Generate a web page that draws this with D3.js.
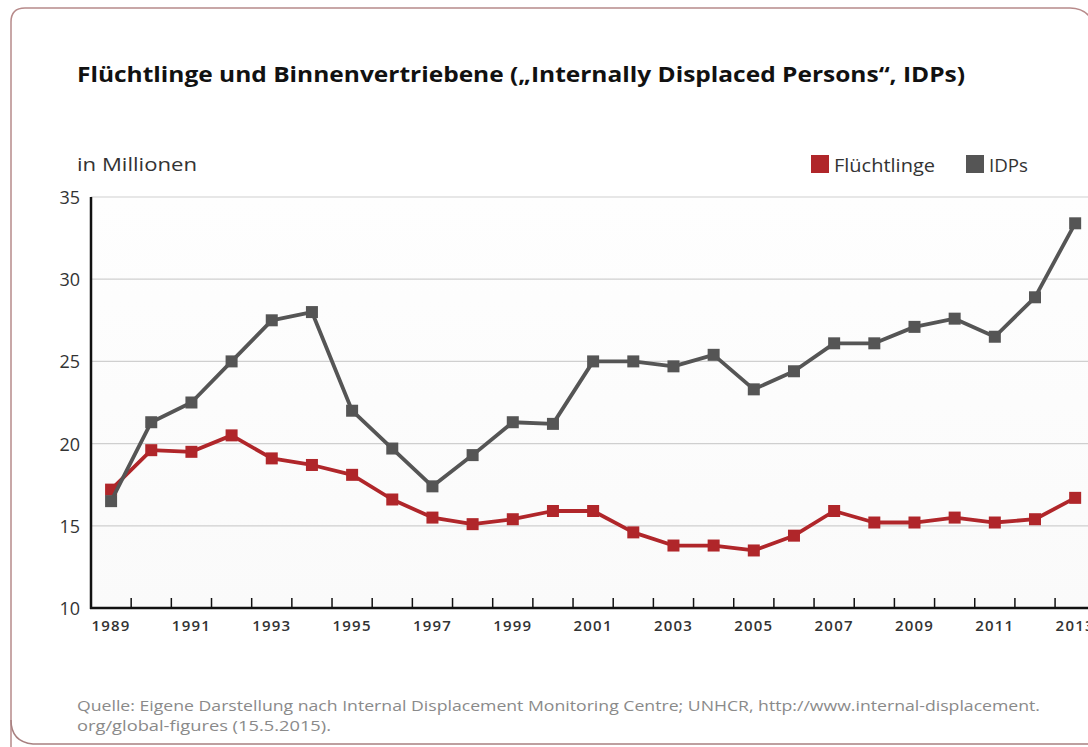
<!DOCTYPE html>
<html><head><meta charset="utf-8">
<script src="https://cdn.jsdelivr.net/npm/d3@7"></script>
<style>
html,body{margin:0;padding:0;background:#fff;}
svg{display:block;font-family:"Open Sans",sans-serif;}
</style></head>
<body><svg id="c" width="1088" height="747"></svg>
<script>
const years = [1989,1990,1991,1992,1993,1994,1995,1996,1997,1998,1999,2000,2001,2002,2003,2004,2005,2006,2007,2008,2009,2010,2011,2012,2013];
const fluechtlinge = [17.2,19.6,19.5,20.5,19.1,18.7,18.1,16.6,15.5,15.1,15.4,15.9,15.9,14.6,13.8,13.8,13.5,14.4,15.9,15.2,15.2,15.5,15.2,15.4,16.7];
const idps = [16.5,21.3,22.5,25.0,27.5,28.0,22.0,19.7,17.4,19.3,21.3,21.2,25.0,25.0,24.7,25.4,23.3,24.4,26.1,26.1,27.1,27.6,26.5,28.9,33.4];
const yTicks = [10,15,20,25,30,35];
const xLabels = years.filter((d,i)=>i%2===0);
const seriesNames = ["Flüchtlinge","IDPs"];
const seriesColors = ["#b0262a","#555555"];

(function(){
const svg = d3.select("#c");
const W=1088,H=747;

// frame
svg.append("path")
  .attr("d","M11,760 L11,22 Q11,8 25,8 L1070,8 Q1090,8 1096,30")
  .attr("fill","none").attr("stroke","#b78a8a").attr("stroke-width",1.5);
svg.append("path")
  .attr("d","M11,720 Q11,742 33,744 L1100,744")
  .attr("fill","none").attr("stroke","#a88080").attr("stroke-width",1.5);

const pL=91, pT=197, pB=608;
const x = d3.scaleBand().domain(years).range([pL, pL+25*40.17]).paddingInner(0).paddingOuter(0);
const y = d3.scaleLinear().domain([10,35]).range([pB, pT]);

// plot background
const g = svg.append("defs").append("linearGradient").attr("id","bg").attr("x1",0).attr("x2",0).attr("y1",0).attr("y2",1);
g.append("stop").attr("offset","0").attr("stop-color","#fefefe");
g.append("stop").attr("offset","1").attr("stop-color","#fafafa");
svg.append("rect").attr("x",pL).attr("y",pT).attr("width",W-pL).attr("height",pB-pT).attr("fill","url(#bg)");

// gridlines
svg.append("g").selectAll("line").data(yTicks.filter(d=>d>10)).join("line")
  .attr("x1",pL).attr("x2",W).attr("y1",d=>y(d)).attr("y2",d=>y(d))
  .attr("stroke","#cfcfcf").attr("stroke-width",1.2);

// y labels
svg.append("g").selectAll("text").data(yTicks).join("text")
  .attr("x",80).attr("y",d=>y(d)+7).attr("text-anchor","end")
  .attr("font-size",18).attr("fill","#333").text(d=>d);

// axes lines
svg.append("line").attr("x1",pL).attr("x2",pL).attr("y1",pT).attr("y2",pB+1).attr("stroke","#111").attr("stroke-width",2.5);
svg.append("line").attr("x1",pL-1).attr("x2",W).attr("y1",pB).attr("y2",pB).attr("stroke","#111").attr("stroke-width",2.5);

// x ticks at band boundaries
svg.append("g").selectAll("line").data(years.slice(1)).join("line")
  .attr("x1",d=>x(d)).attr("x2",d=>x(d)).attr("y1",pB).attr("y2",pB-10)
  .attr("stroke","#111").attr("stroke-width",1.5);
svg.append("g").selectAll("text").data(xLabels).join("text")
  .attr("x",d=>x(d)+x.bandwidth()/2).attr("y",631).attr("text-anchor","middle")
  .attr("font-size",15).attr("font-weight",600).attr("letter-spacing",1.2).attr("fill","#333").text(d=>d);

// series
const cx = d=>x(d)+x.bandwidth()/2;
[fluechtlinge, idps].forEach((vals,si)=>{
  const pts = years.map((yr,i)=>[cx(yr), y(vals[i])]);
  const col = seriesColors[si];
  svg.append("path").attr("d",d3.line()(pts)).attr("fill","none")
    .attr("stroke",col).attr("stroke-width",3.8).attr("stroke-linejoin","round");
  svg.append("g").selectAll("rect").data(pts).join("rect")
    .attr("x",d=>d[0]-6).attr("y",d=>d[1]-6).attr("width",12).attr("height",12)
    .attr("fill",col);
});

// title
svg.append("text").attr("x",77).attr("y",82).attr("font-size",22).attr("font-weight",700)
  .attr("fill","#111").attr("textLength",888).attr("lengthAdjust","spacingAndGlyphs")
  .text("Flüchtlinge und Binnenvertriebene („Internally Displaced Persons“, IDPs)");

svg.append("text").attr("x",77).attr("y",171).attr("font-size",18).attr("fill","#333")
  .attr("textLength",120).attr("lengthAdjust","spacingAndGlyphs").text("in Millionen");

// legend
const legX=[811,966];
const legW=[101,39];
seriesNames.forEach((n,i)=>{
  svg.append("rect").attr("x",legX[i]).attr("y",155).attr("width",18).attr("height",18).attr("fill",seriesColors[i]);
  svg.append("text").attr("x",legX[i]+23).attr("y",172).attr("font-size",18).attr("fill","#333")
    .attr("textLength",legW[i]).attr("lengthAdjust","spacingAndGlyphs").text(n);
});

// source
svg.append("text").attr("x",77).attr("y",711).attr("font-size",14).attr("fill","#8a8a8a")
  .attr("textLength",963).attr("lengthAdjust","spacingAndGlyphs")
  .text("Quelle: Eigene Darstellung nach Internal Displacement Monitoring Centre; UNHCR, http://www.internal-displacement.");
svg.append("text").attr("x",77).attr("y",731).attr("font-size",14).attr("fill","#8a8a8a")
  .attr("textLength",254).attr("lengthAdjust","spacingAndGlyphs")
  .text("org/global-figures (15.5.2015).");
})();
</script></body></html>
